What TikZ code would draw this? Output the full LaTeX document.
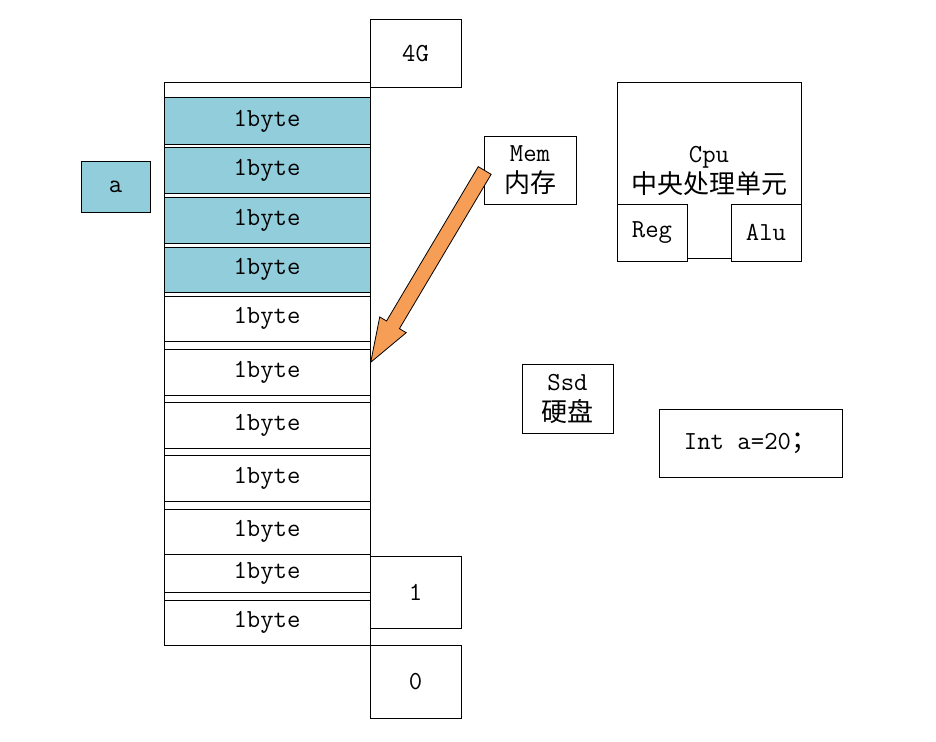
\documentclass[tikz,border=0pt]{standalone}
\usepackage{fontspec}
\newfontfamily\cjk{Noto Sans CJK SC}
\usetikzlibrary{calc}
\definecolor{cellblue}{RGB}{146,205,220}
\definecolor{arroworange}{RGB}{246,158,86}
\newcommand{\zh}[1]{{\cjk\fontsize{26}{31}\selectfont #1}}
\begin{document}
\begin{tikzpicture}[x=1pt,y=-1pt,
  box/.style={draw=black,line width=1pt,rectangle,inner sep=0pt,align=center,
    font=\ttfamily\fontsize{26}{31}\selectfont},
  bluebox/.style={box,fill=cellblue},
  cell/.style={box,minimum width=206pt},
]
\useasboundingbox (0,0) rectangle (936,741);
% memory column frame
\node[box,minimum width=206pt,minimum height=562pt] (frame) at (267,364) {};
% cells
\node[cell,fill=cellblue,minimum height=46pt] (r1) at (267,121) {1byte};
\node[cell,fill=cellblue,minimum height=46pt] (r2) at (267,170) {1byte};
\node[cell,fill=cellblue,minimum height=46pt] (r3) at (267,220) {1byte};
\node[cell,fill=cellblue,minimum height=45pt] (r4) at (267,269.5) {1byte};
\node[cell,minimum height=45pt] (r5) at (267,318.5) {1byte};
\node[cell,minimum height=46pt] (r6) at (267,372) {1byte};
\node[cell,minimum height=46pt] (r7) at (267,425) {1byte};
\node[cell,minimum height=46pt] (r8) at (267,478) {1byte};
\node[cell,minimum height=45pt] (r9) at (267,531.5) {1byte};
\node[cell,minimum height=38pt] (r10) at (267,573) {1byte};
\node[cell,minimum height=45pt] (r11) at (267,622.5) {1byte};
% address labels
\node[box,minimum width=91pt,minimum height=68pt] (g4) at (415.5,54) {4G};
\node[box,minimum width=91pt,minimum height=72pt] (one) at (415.5,592) {1};
\node[box,minimum width=91pt,minimum height=73pt] (zero) at (415.5,681.5) {0};
% variable a
\node[bluebox,minimum width=69pt,minimum height=51pt] (a) at (115.5,186.5) {a};
% Mem
\node[box,minimum width=92pt,minimum height=68pt] (mem) at (530,170) {Mem\\\zh{内存}};
% Cpu
\node[box,minimum width=184pt,minimum height=175pt] (cpu) at (709,170.5) {Cpu\\\zh{中央处理单元}};
\node[box,fill=white,minimum width=70pt,minimum height=57pt] (reg) at (652,232.5) {Reg};
\node[box,fill=white,minimum width=70pt,minimum height=57pt] (alu) at (766,232.5) {Alu};
% Ssd
\node[box,minimum width=91pt,minimum height=69pt] (ssd) at (567.5,398.5) {Ssd\\\zh{硬盘}};
% Int a=20;
\node[box,minimum width=183pt,minimum height=68pt] (code) at (750.5,443) {Int a=20\zh{；}};
% block arrow from Mem to memory column
\coordinate (atail) at (484.7,170.5);
\coordinate (atip) at (370.7,362.3);
\coordinate (hb) at ($(atip)!43.6pt!(atail)$);
\draw[line width=0.8pt,fill=arroworange,line join=miter]
  ($(atail)!7.5pt!90:(atip)$) -- ($(hb)!7.5pt!90:(atip)$) -- ($(hb)!15.4pt!90:(atip)$)
  -- (atip) -- ($(hb)!15.4pt!-90:(atip)$) -- ($(hb)!7.5pt!-90:(atip)$)
  -- ($(atail)!7.5pt!-90:(atip)$) -- cycle;
\end{tikzpicture}
\end{document}
